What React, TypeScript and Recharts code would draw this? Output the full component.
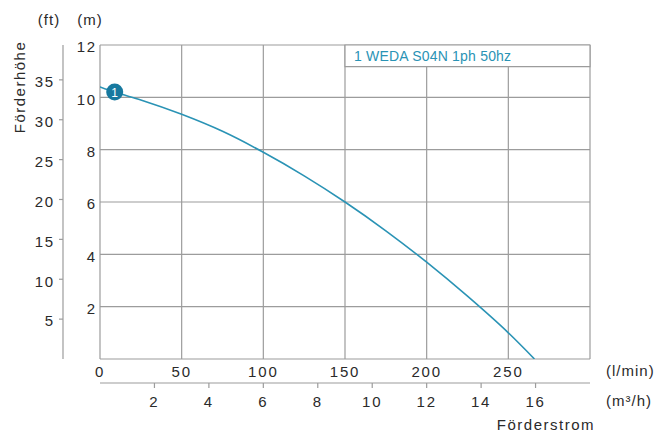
import React from "react";
import {ComposedChart, Line, Scatter, XAxis, YAxis, CartesianGrid, ReferenceArea} from "recharts";

// Förderstrom in l/min, Förderhöhe in m
const flowLmin = [0, 9, 25, 50, 75, 100, 125, 150, 175, 200, 225, 250, 266];
const headM = [10.4, 10.2, 9.9, 9.35, 8.7, 7.9, 7.0, 6.0, 4.9, 3.7, 2.4, 1.0, 0];

const markerFlow = [9];
const markerHead = [10.2];
const markerLabels = ["1"];

const lminTicks = [0, 50, 100, 150, 200, 250, 300];
const m3hTicks = [2, 4, 6, 8, 10, 12, 14, 16];
const mTicks = [0, 2, 4, 6, 8, 10, 12];
const ftTicks = [5, 10, 15, 20, 25, 30, 35];

const seriesName = "1 WEDA S04N 1ph 50hz";

// unit conversions
const LMIN_PER_M3H = 1000 / 60;
const FT_PER_M = 3.28084;

const FONT = "'Liberation Sans', Arial, sans-serif";
const TEXT = "#2a2a2a";
const GRID = "#9c9c9c";
const CURVE = "#2a93b5";
const MARK = "#17799f";

const data = flowLmin.map((q, i) => ({q, h: headM[i]}));
const markers = markerFlow.map((q, i) => ({q, h: markerHead[i], label: markerLabels[i]}));

const tickStyle = {fontSize: 15, fill: TEXT, fontFamily: FONT, letterSpacing: 1.8};

function MarkerShape(props: any) {
    const {cx, cy, payload} = props;
    return (
        <g>
            <circle cx={cx} cy={cy} r={8.5} fill={MARK}/>
            <text x={cx} y={cy + 4.5} textAnchor="middle" fontSize={12} fill="#fff" fontFamily={FONT}>
                {payload.label}
            </text>
        </g>
    );
}

function LegendLabel(props: any) {
    const {viewBox} = props;
    return (
        <text x={viewBox.x + 9} y={viewBox.y + viewBox.height / 2 + 5} fontSize={14} fill={CURVE}
              fontFamily={FONT} letterSpacing={0.2}>
            {seriesName}
        </text>
    );
}

export default function App() {
    return (
        <div style={{position: "absolute", left: 0, top: 0, width: 662, height: 434, background: "#fff"}}>
            <ComposedChart width={662} height={434} data={data}
                           margin={{top: 45, right: 72, bottom: 0, left: 0}}>
                <CartesianGrid xAxisId="lmin" yAxisId="a_m" stroke={GRID} strokeWidth={1.2}/>
                <XAxis xAxisId="lmin" dataKey="q" type="number" domain={[0, 300]} ticks={lminTicks}
                       allowDataOverflow height={24} axisLine={false} tickLine={false}
                       tickSize={0} tickMargin={7} tick={tickStyle} interval={0}
                       tickFormatter={(v: number) => (v === 300 ? "" : String(v))}/>
                <XAxis xAxisId="m3h" dataKey="q" type="number" domain={[0, 300]}
                       ticks={m3hTicks.map(t => t * LMIN_PER_M3H)} allowDataOverflow
                       height={51} axisLine={{stroke: GRID, strokeWidth: 1.2}}
                       tickLine={{stroke: GRID, strokeWidth: 1.2}} tickSize={5} tickMargin={8}
                       tick={tickStyle} interval={0}
                       tickFormatter={(v: number) => String(Math.round(v / LMIN_PER_M3H))}/>
                <YAxis yAxisId="a_m" type="number" domain={[0, 12]} ticks={mTicks} allowDataOverflow
                       width={37} axisLine={false} tickLine={false} tickSize={0} tickMargin={3}
                       tick={{...tickStyle, dy: 2}} interval={0}
                       tickFormatter={(v: number) => (v === 0 ? "" : String(v))}/>
                <YAxis yAxisId="b_ft" type="number" domain={[0, 12 * FT_PER_M]} ticks={ftTicks} allowDataOverflow
                       width={63} axisLine={{stroke: GRID, strokeWidth: 1.2}}
                       tickLine={{stroke: GRID, strokeWidth: 1.2}} tickSize={4} tickMargin={4}
                       tick={{...tickStyle, dy: 2}} interval={0}/>
                <ReferenceArea xAxisId="lmin" yAxisId="a_m" x1={150} x2={300} y1={11.17} y2={12}
                               fill="#fff" fillOpacity={1} stroke={GRID} strokeWidth={1.2}
                               label={<LegendLabel/>}/>
                <Line xAxisId="lmin" yAxisId="a_m" dataKey="h" type="monotone" stroke={CURVE}
                      strokeWidth={1.6} dot={false} activeDot={false} isAnimationActive={false}/>
                <Scatter xAxisId="lmin" yAxisId="a_m" data={markers} dataKey="h" shape={<MarkerShape/>}
                         isAnimationActive={false}/>
            </ComposedChart>
            <svg width={662} height={434} style={{position: "absolute", left: 0, top: 0, pointerEvents: "none"}}
                 fontFamily={FONT} fill={TEXT} fontSize={15} letterSpacing={1}>
                <text x={49} y={25} textAnchor="middle">(ft)</text>
                <text x={90} y={25} textAnchor="middle">(m)</text>
                <text x={0} y={0} textAnchor="middle" letterSpacing={1.5}
                      transform="translate(25,87) rotate(-90)">Förderhöhe</text>
                <text x={606} y={376}>(l/min)</text>
                <text x={606} y={406}>(m³/h)</text>
                <text x={595} y={430} textAnchor="end" letterSpacing={1.5}>Förderstrom</text>
            </svg>
        </div>
    );
}
